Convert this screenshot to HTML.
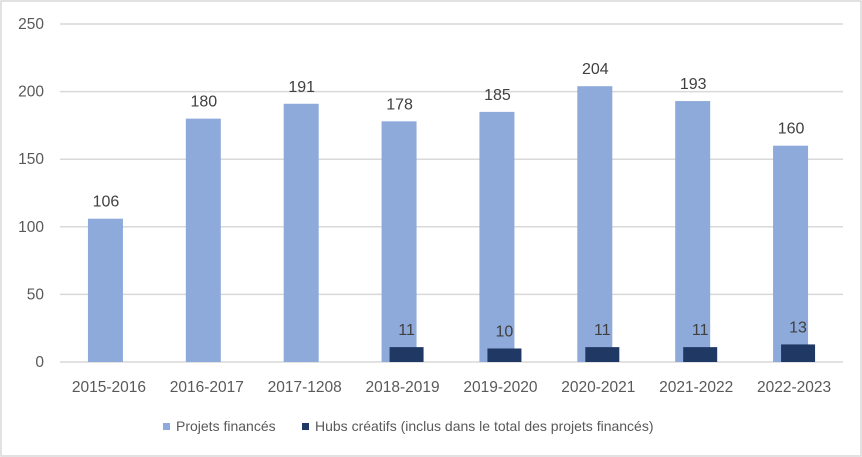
<!DOCTYPE html>
<html><head><meta charset="utf-8"><style>
html,body{margin:0;padding:0;background:#fff;}
svg{display:block;font-family:"Liberation Sans",sans-serif;}
</style></head><body>
<svg id="c" width="862" height="457">
<rect x="1" y="1" width="860" height="455" fill="#fff" stroke="#d9d9d9" stroke-width="1.5"/>
<g id="grid"></g><g id="bars"></g><g id="labels"></g>
<g>
<rect x="163" y="423" width="7" height="7" fill="#8eaadb"/>
<text x="176" y="431" font-size="14" fill="#595959">Projets financés</text>
<rect x="302" y="423" width="7" height="7" fill="#1f3864"/>
<text x="315" y="431" font-size="14" fill="#595959">Hubs créatifs (inclus dans le total des projets financés)</text>
</g>
</svg>
<script>
const categories=["2015-2016","2016-2017","2017-1208","2018-2019","2019-2020","2020-2021","2021-2022","2022-2023"];
const projets=[106,180,191,178,185,204,193,160];
const hubs=[null,null,null,11,10,11,11,13];
const yTicks=[0,50,100,150,200,250];
const NS="http://www.w3.org/2000/svg";
const x0=60,x1=843,yb=362,yt=24,ymax=250;
const step=(x1-x0)/categories.length;
const y=v=>yb-(v/ymax)*(yb-yt);
const cx=i=>x0+step*(i+0.5);
function mk(t,a,p){const e=document.createElementNS(NS,t);for(const k in a)e.setAttribute(k,a[k]);p.appendChild(e);return e;}
const G=document.getElementById('grid'),B=document.getElementById('bars'),L=document.getElementById('labels');
yTicks.forEach(v=>{
 const l=mk('line',{x1:x0,x2:x1,y1:y(v),y2:y(v),stroke:'#d9d9d9','stroke-width':1.5},G);
 
 
 const t=mk('text',{x:44,y:y(v)+5,'text-anchor':'end','font-size':15.5,fill:'#595959'},G);
 t.textContent=v;
 
 
});
categories.forEach((c,i)=>{
 const t=mk('text',{x:cx(i),y:392,'text-anchor':'middle','font-size':15.5,fill:'#595959'},L);
 t.textContent=c;
 
 
 const p=projets[i];
 const r=mk('rect',{x:cx(i)-21,y:y(p),width:35,height:yb-y(p),fill:'#8eaadb'},B);
 
 
 const pl=mk('text',{x:cx(i)-3,y:y(p)-12,'text-anchor':'middle','font-size':16,fill:'#404040'},L);
 pl.textContent=p;
 
 
 const h=hubs[i];
 if(h!=null){
  const d=mk('rect',{x:cx(i)-13,y:y(h),width:34,height:yb-y(h),fill:'#1f3864'},B);
  
  
  const hl=mk('text',{x:cx(i)+4,y:y(h)-12,'text-anchor':'middle','font-size':16,fill:'#404040'},L);
  hl.textContent=h;
  
  
 }
});
</script>
</body></html>
